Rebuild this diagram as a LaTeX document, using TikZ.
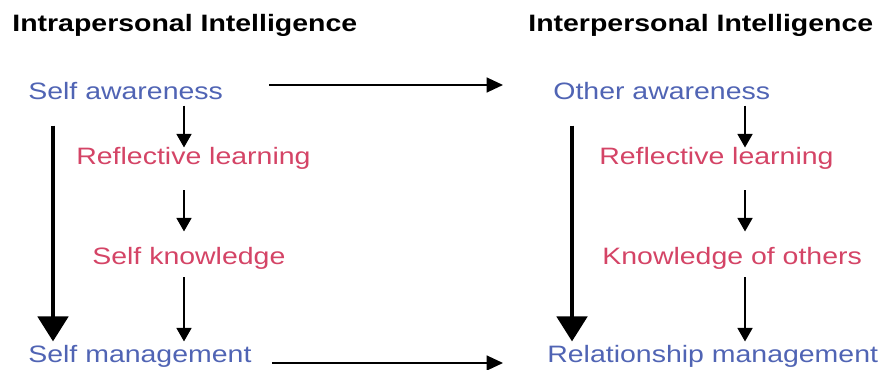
\documentclass[tikz,border=0pt]{standalone}
\usepackage{fontspec}
\setmainfont{Liberation Sans}[FakeStretch=1.2]
\usetikzlibrary{arrows.meta}

\definecolor{awareblue}{RGB}{80,100,180}
\definecolor{learnred}{RGB}{212,68,102}

\tikzset{
  item/.style={anchor=base west, inner sep=0pt, font=\fontsize{13.5}{16}\selectfont},
  heading/.style={item, font=\fontsize{13.5}{16}\selectfont\bfseries},
  aware/.style={item, text=awareblue},
  learn/.style={item, text=learnred},
  thin arrow/.style={line width=0.85pt, -{Triangle[width=0.3cm,length=0.27cm]}},
  flat arrow/.style={line width=1pt, -{Triangle[width=0.3cm,length=0.33cm]}},
  big arrow/.style={line width=2.8pt, -{Triangle[width=0.6cm,length=0.5cm]}}
}

\begin{document}
\begin{tikzpicture}

        \useasboundingbox (0,0) rectangle (17.7,-7.4);

        % x positions of the vertical arrows
        \coordinate (lbig) at (1.06,0);
        \coordinate (lsmall) at (3.68,0);
        \coordinate (rbig) at (11.44,0);
        \coordinate (rsmall) at (14.9,0);

        % Column headings
        \node[heading] (intra) at (0.24,-0.64) {Intrapersonal Intelligence};
        \node[heading] (inter) at (10.56,-0.64) {Interpersonal Intelligence};

        % Left column: the self
        \node[aware] (selfaw) at (0.56,-2.0) {Self awareness};
        \node[learn] (reflA) at (1.52,-3.3) {Reflective learning};
        \node[learn] (selfkn) at (1.84,-5.3) {Self knowledge};
        \node[aware] (selfman) at (0.56,-7.26) {Self management};

        % Right column: the others
        \node[aware] (otheraw) at (11.06,-2.0) {Other awareness};
        \node[learn] (reflB) at (11.98,-3.3) {Reflective learning};
        \node[learn] (othkn) at (12.04,-5.3) {Knowledge of others};
        \node[aware] (relman) at (10.94,-7.26) {Relationship management};

        % Small steps down each column
        \draw[thin arrow, shorten <=0.1cm] (selfaw.south -| lsmall) -- (reflA.north -| lsmall);
        \draw[thin arrow, shorten <=0.4cm, shorten >=0.32cm] (reflA.south -| lsmall) -- (selfkn.north -| lsmall);
        \draw[thin arrow, shorten <=0.14cm, shorten >=0.08cm] (selfkn.south -| lsmall) -- (selfman.north -| lsmall);

        \draw[thin arrow, shorten <=0.1cm] (otheraw.south -| rsmall) -- (reflB.north -| rsmall);
        \draw[thin arrow, shorten <=0.4cm, shorten >=0.32cm] (reflB.south -| rsmall) -- (othkn.north -| rsmall);
        \draw[thin arrow, shorten <=0.14cm, shorten >=0.08cm] (othkn.south -| rsmall) -- (relman.north -| rsmall);

        % Awareness straight to management
        \draw[big arrow, shorten <=0.5cm, shorten >=0.08cm] (selfaw.south -| lbig) -- (selfman.north -| lbig);
        \draw[big arrow, shorten <=0.5cm, shorten >=0.08cm] (otheraw.south -| rbig) -- (relman.north -| rbig);

        % Across from self to others
        \draw[flat arrow, shorten <=0.92cm, shorten >=1.0cm] ([yshift=0.3cm]selfaw.base east) -- ([yshift=0.3cm]otheraw.base west);
        \draw[flat arrow, shorten <=0.4cm, shorten >=0.88cm] (selfman.base east) -- (relman.base west);

\end{tikzpicture}
\end{document}
